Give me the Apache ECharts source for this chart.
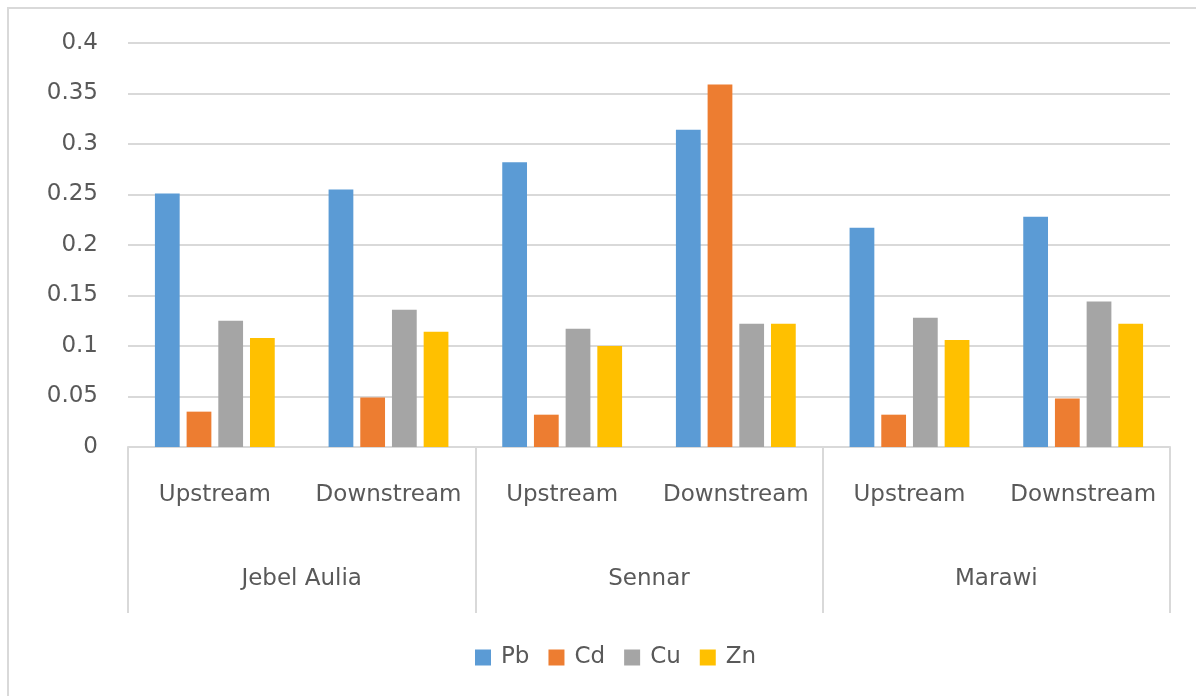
<!DOCTYPE html>
<html>
<head>
<meta charset="utf-8">
<script src="https://cdn.jsdelivr.net/npm/echarts@6/dist/echarts.min.js"></script>
<style>
  html, body { margin: 0; padding: 0; background: #fff; }
  #chart { width: 1196px; height: 696px; }
</style>
</head>
<body>
<div id="chart"></div>
<script>
// Heavy metal concentrations by site and sampling position
const sites = ['Jebel Aulia', 'Sennar', 'Marawi'];
const positions = ['Upstream', 'Downstream', 'Upstream', 'Downstream', 'Upstream', 'Downstream'];
const metals = ['Pb', 'Cd', 'Cu', 'Zn'];
const pb = [0.251, 0.255, 0.282, 0.314, 0.217, 0.228];
const cd = [0.035, 0.049, 0.032, 0.359, 0.032, 0.048];
const cu = [0.125, 0.136, 0.117, 0.122, 0.128, 0.144];
const zn = [0.108, 0.114, 0.100, 0.122, 0.106, 0.122];
const yTicks = ['0', '0.05', '0.1', '0.15', '0.2', '0.25', '0.3', '0.35', '0.4'];

const colors = ['#5B9BD5', '#ED7D31', '#A5A5A5', '#FFC000'];
const values = [pb, cd, cu, zn];
const textColor = '#595959';
const font = 'DejaVu Sans';

const chart = echarts.init(document.getElementById('chart'));
chart.setOption({
  animation: false,
  color: colors,
  grid: { left: 128, right: 26, top: 43, bottom: 249, containLabel: false },
  graphic: [{
    type: 'rect',
    shape: { x: 8, y: 8, width: 1300, height: 800 },
    style: { fill: 'none', stroke: '#d9d9d9', lineWidth: 2 },
    silent: true,
    z: -1
  }],
  legend: {
    data: metals,
    top: 646,
    left: 475,
    padding: 0,
    itemWidth: 16,
    itemHeight: 16,
    itemGap: 19,
    icon: 'rect',
    formatter: '{t|{name}}',
    textStyle: {
      color: textColor, fontSize: 23, fontFamily: font,
      rich: { t: { color: textColor, fontSize: 23, fontFamily: font, padding: [0, 0, 0, 5] } }
    }
  },
  xAxis: [{
    type: 'category',
    data: positions,
    position: 'bottom',
    axisLine: { show: true, lineStyle: { color: '#d9d9d9', width: 2 } },
    axisTick: { show: false },
    axisLabel: { color: textColor, fontSize: 23, fontFamily: font, margin: 37, interval: 0, hideOverlap: false }
  }, {
    type: 'category',
    data: sites,
    position: 'bottom',
    axisLine: { show: false },
    axisTick: { show: true, length: 166, interval: 0, lineStyle: { color: '#d9d9d9', width: 2 } },
    axisLabel: { color: textColor, fontSize: 23, fontFamily: font, margin: 121, interval: 0 }
  }],
  yAxis: {
    type: 'value',
    min: 0,
    max: 0.4,
    interval: 0.05,
    axisLine: { show: false },
    axisTick: { show: false },
    splitLine: { lineStyle: { color: '#d9d9d9', width: 2 } },
    axisLabel: {
      color: textColor, fontSize: 23, fontFamily: font, margin: 30,
      formatter: (v) => yTicks[Math.round(v / 0.05)]
    }
  },
  series: metals.map((name, i) => ({
    name: name,
    type: 'bar',
    xAxisIndex: 0,
    data: values[i],
    barGap: '28%',
    barCategoryGap: '31%'
  }))
});
</script>
</body>
</html>
